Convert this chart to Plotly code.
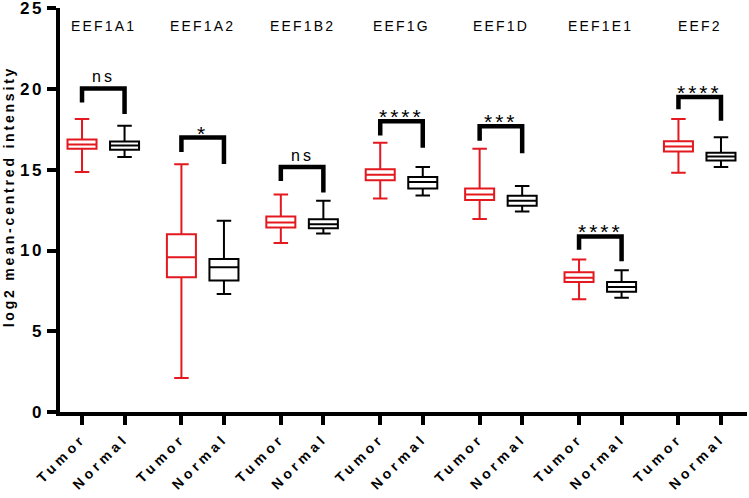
import plotly.graph_objects as go

# ---------------- data ----------------
genes = ["EEF1A1", "EEF1A2", "EEF1B2", "EEF1G", "EEF1D", "EEF1E1", "EEF2"]
groups = ["Tumor", "Normal"]

tumor_lower = [14.86, 2.11, 10.46, 13.22, 11.96, 6.98, 14.82]
tumor_q1 = [16.30, 8.35, 11.43, 14.35, 13.13, 8.05, 16.14]
tumor_median = [16.57, 9.58, 11.73, 14.70, 13.47, 8.31, 16.44]
tumor_q3 = [16.87, 11.01, 12.10, 15.03, 13.84, 8.66, 16.77]
tumor_upper = [18.14, 15.34, 13.47, 16.67, 16.30, 9.44, 18.14]

normal_lower = [15.80, 7.31, 11.06, 13.41, 12.41, 7.08, 15.17]
normal_q1 = [16.24, 8.15, 11.38, 13.84, 12.78, 7.45, 15.58]
normal_median = [16.50, 8.97, 11.63, 14.25, 13.08, 7.74, 15.83]
normal_q3 = [16.75, 9.48, 11.93, 14.56, 13.39, 8.05, 16.05]
normal_upper = [17.73, 11.84, 13.08, 15.17, 14.00, 8.78, 17.01]

significance = ["ns", "*", "ns", "****", "***", "****", "****"]
bracket_top = [20.04, 17.00, 15.17, 18.00, 17.69, 10.87, 19.51]
bracket_left_end = [19.17, 16.10, 14.30, 17.12, 16.80, 10.05, 18.75]
bracket_right_end = [18.45, 15.36, 13.60, 16.36, 16.03, 9.34, 18.04]

y_ticks = [0, 5, 10, 15, 20, 25]
y_title = "log2 mean-centred intensity"
gene_label_y = 23.9

# ---------------- layout constants ----------------
GROUP_STEP = 99.33
PAIR_OFFSET = 42.5
BOX_W = 29
RED = "#e3191f"
BLACK = "#000000"
FONT = "Liberation Sans, Arial, sans-serif"


def spaced(t, ls):
    return f'<span style="letter-spacing:{ls}px">{t}</span>'


tumor_x = [i * GROUP_STEP for i in range(len(genes))]
normal_x = [x + PAIR_OFFSET for x in tumor_x]
center_x = [(a + b) / 2 for a, b in zip(tumor_x, normal_x)]

fig = go.Figure()

fig.add_trace(go.Box(
    x=tumor_x, q1=tumor_q1, median=tumor_median, q3=tumor_q3,
    lowerfence=tumor_lower, upperfence=tumor_upper,
    width=BOX_W, whiskerwidth=0.5, boxpoints=False,
    line=dict(color=RED, width=2), fillcolor="white",
    name=groups[0], showlegend=False, hoverinfo="skip",
))
fig.add_trace(go.Box(
    x=normal_x, q1=normal_q1, median=normal_median, q3=normal_q3,
    lowerfence=normal_lower, upperfence=normal_upper,
    width=BOX_W, whiskerwidth=0.5, boxpoints=False,
    line=dict(color=BLACK, width=2), fillcolor="white",
    name=groups[1], showlegend=False, hoverinfo="skip",
))

# significance brackets
for i in range(len(genes)):
    fig.add_trace(go.Scatter(
        x=[tumor_x[i], tumor_x[i], normal_x[i], normal_x[i]],
        y=[bracket_left_end[i], bracket_top[i], bracket_top[i], bracket_right_end[i]],
        mode="lines", line=dict(color=BLACK, width=4.5),
        showlegend=False, hoverinfo="skip", cliponaxis=False,
    ))
    is_star = "*" in significance[i]
    fig.add_annotation(
        x=center_x[i], y=bracket_top[i], xref="x", yref="y",
        text=spaced(significance[i], 3),
        showarrow=False, yanchor="bottom",
        yshift=-9 if is_star else 1,
        font=dict(family=FONT, size=21 if is_star else 16, color=BLACK),
    )
    fig.add_annotation(
        x=center_x[i], y=gene_label_y, xref="x", yref="y",
        text=spaced(genes[i], 2.2), showarrow=False,
        font=dict(family=FONT, size=14, color=BLACK),
    )

# y axis title
fig.add_annotation(
    x=-0.075, y=0.535, xref="paper", yref="paper",
    text="<b>" + spaced(y_title, 2.8) + "</b>", textangle=-90,
    showarrow=False, xanchor="center", yanchor="middle",
    font=dict(family=FONT, size=14, color=BLACK),
)

tickvals = []
ticktext = []
for t, n in zip(tumor_x, normal_x):
    tickvals += [t, n]
    ticktext += ["<b>" + spaced(groups[0], 4) + "</b>", "<b>" + spaced(groups[1], 4) + "</b>"]

fig.update_layout(
    width=749, height=498,
    margin=dict(l=60, r=2, t=8, b=86, autoexpand=False),
    paper_bgcolor="white", plot_bgcolor="white",
    font=dict(family=FONT, color=BLACK),
    showlegend=False,
    xaxis=dict(
        range=[-22, 6 * GROUP_STEP + PAIR_OFFSET + 26],
        tickmode="array", tickvals=tickvals, ticktext=ticktext,
        tickangle=-45, tickfont=dict(size=14, family=FONT),
        showline=True, linecolor=BLACK, linewidth=3.5,
        ticks="outside", ticklen=9, tickwidth=3.5, tickcolor=BLACK,
        showgrid=False, zeroline=False, automargin=False,
        ticklabeloverflow="allow",
    ),
    yaxis=dict(
        range=[0, 25.02],
        tickmode="array", tickvals=y_ticks,
        ticktext=["<b>" + spaced(str(v), 2.5) + "</b>" for v in y_ticks],
        tickfont=dict(size=17, family=FONT),
        showline=True, linecolor=BLACK, linewidth=3.5,
        ticks="outside", ticklen=9, tickwidth=3.5, tickcolor=BLACK,
        showgrid=False, zeroline=False, automargin=False,
        ticklabeloverflow="allow",
    ),
)

fig.write_html(
    "out.html",
    config={"displayModeBar": False},
    post_script="document.body.style.margin='0';document.body.style.padding='0';",
)
